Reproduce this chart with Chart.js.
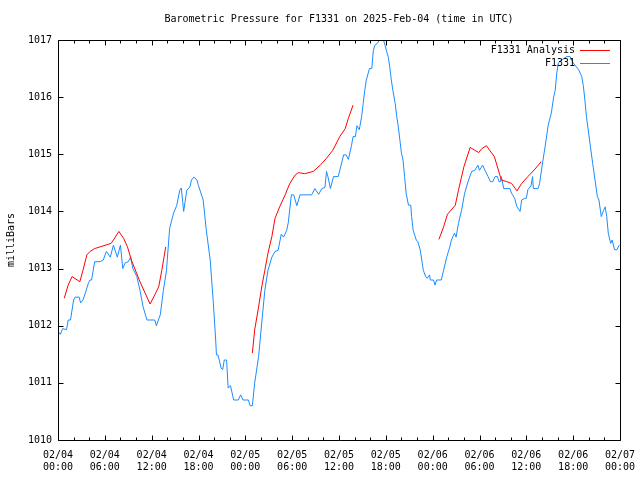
<!DOCTYPE html>
<html lang="en">
<head>
    <meta charset="UTF-8">
    <title>Barometric Pressure for F1331</title>
    <script src="https://cdn.jsdelivr.net/npm/chart.js"></script>
    <style>
        body { margin: 0; background: #fff; }
        #chart { display: block; }
    </style>
</head>
<body>
    <canvas id="chart" width="640" height="480"></canvas>

    <script>
        // hours since 2025-02-04 00:00 UTC
        const xTickDates = ['02/04', '02/04', '02/04', '02/04', '02/05', '02/05', '02/05', '02/05', '02/06', '02/06', '02/06', '02/06', '02/07'];
        const xTickTimes = ['00:00', '06:00', '12:00', '18:00', '00:00', '06:00', '12:00', '18:00', '00:00', '06:00', '12:00', '18:00', '00:00'];

        const observedHours = [
            0.0, 0.3, 0.6, 1.1, 1.3, 1.6, 2.0, 2.2, 2.7, 2.9, 3.2, 3.5, 3.9, 4.1, 4.3, 4.7, 5.4, 5.8, 6.2, 6.7,
            7.1, 7.6, 8.0, 8.3, 8.6, 9.0, 9.3, 9.6, 10.1, 10.5, 10.9, 11.4, 12.4, 12.6, 13.1, 13.5, 13.9, 14.3, 14.8, 15.2,
            15.6, 15.8, 16.1, 16.5, 16.9, 17.1, 17.4, 17.8, 18.0, 18.6, 19.0, 19.5, 19.9, 20.2, 20.3, 20.5, 20.9, 21.1, 21.3, 21.6,
            21.8, 22.1, 22.5, 23.1, 23.4, 23.7, 24.4, 24.6, 24.9, 25.2, 25.7, 26.1, 26.5, 26.9, 27.4, 27.8, 28.2, 28.6, 28.9, 29.3,
            29.5, 29.9, 30.2, 30.6, 31.0, 32.5, 32.9, 33.4, 33.8, 34.2, 34.4, 34.6, 34.9, 35.3, 35.9, 36.1, 36.6, 36.9, 37.2, 37.6,
            37.8, 38.1, 38.3, 38.6, 38.9, 39.1, 39.3, 39.5, 39.9, 40.2, 40.4, 40.6, 40.9, 41.2, 41.7, 41.9, 42.1, 42.3, 42.5, 42.7,
            42.9, 43.2, 43.4, 43.6, 43.8, 44.0, 44.2, 44.4, 44.6, 44.9, 45.2, 45.3, 45.5, 45.9, 46.1, 46.4, 46.6, 46.8, 47.1, 47.3,
            47.6, 47.7, 48.1, 48.3, 48.5, 49.1, 49.4, 49.8, 50.2, 50.4, 50.8, 51.0, 51.3, 51.7, 52.1, 52.6, 53.0, 53.4, 53.8, 54.0,
            54.4, 54.7, 55.1, 55.4, 55.7, 56.0, 56.3, 56.5, 56.7, 56.8, 57.1, 57.9, 58.1, 58.5, 58.8, 59.2, 59.4, 59.8, 60.0, 60.2,
            60.6, 60.8, 60.9, 61.5, 61.7, 62.1, 62.4, 62.8, 63.2, 63.5, 63.7, 63.9, 64.1, 64.5, 65.2, 65.6, 66.0, 66.7, 67.1, 67.3,
            67.5, 67.7, 68.1, 68.5, 68.8, 69.1, 69.3, 69.6, 69.9, 70.1, 70.3, 70.5, 70.8, 71.0, 71.3, 71.6, 71.9
        ];
        const observedPressure = [
            1011.90, 1011.85, 1011.95, 1011.93, 1012.10, 1012.10, 1012.45, 1012.50, 1012.50, 1012.40, 1012.45, 1012.57, 1012.75, 1012.80, 1012.80, 1013.12, 1013.12, 1013.15, 1013.30, 1013.20,
            1013.41, 1013.20, 1013.41, 1013.00, 1013.10, 1013.12, 1013.20, 1013.00, 1012.86, 1012.62, 1012.33, 1012.10, 1012.10, 1012.00, 1012.19, 1012.62, 1012.97, 1013.70, 1013.97, 1014.10,
            1014.37, 1014.41, 1014.00, 1014.37, 1014.43, 1014.55, 1014.60, 1014.55, 1014.45, 1014.20, 1013.67, 1013.15, 1012.40, 1011.75, 1011.49, 1011.49, 1011.26, 1011.23, 1011.40, 1011.40,
            1010.91, 1010.95, 1010.70, 1010.70, 1010.79, 1010.70, 1010.70, 1010.60, 1010.60, 1011.00, 1011.46, 1012.05, 1012.62, 1012.97, 1013.20, 1013.30, 1013.32, 1013.60, 1013.55, 1013.67,
            1013.80, 1014.29, 1014.29, 1014.10, 1014.29, 1014.29, 1014.40, 1014.30, 1014.40, 1014.42, 1014.70, 1014.60, 1014.40, 1014.61, 1014.61, 1014.72, 1014.99, 1014.99, 1014.91, 1015.15,
            1015.31, 1015.31, 1015.50, 1015.43, 1015.66, 1015.89, 1016.12, 1016.30, 1016.50, 1016.50, 1016.82, 1016.91, 1016.94, 1017.00, 1017.00, 1016.91, 1016.80, 1016.71, 1016.53, 1016.30,
            1016.12, 1015.89, 1015.66, 1015.48, 1015.25, 1015.02, 1014.90, 1014.61, 1014.32, 1014.11, 1014.11, 1013.91, 1013.67, 1013.50, 1013.47, 1013.33, 1013.15, 1012.97, 1012.86, 1012.83,
            1012.89, 1012.80, 1012.80, 1012.71, 1012.80, 1012.80, 1012.97, 1013.20, 1013.38, 1013.50, 1013.62, 1013.55, 1013.79, 1014.02, 1014.32, 1014.55, 1014.70, 1014.72, 1014.81, 1014.72,
            1014.81, 1014.72, 1014.61, 1014.52, 1014.52, 1014.61, 1014.61, 1014.52, 1014.52, 1014.61, 1014.40, 1014.40, 1014.32, 1014.23, 1014.08, 1014.00, 1014.20, 1014.23, 1014.23, 1014.38,
            1014.45, 1014.61, 1014.40, 1014.40, 1014.49, 1014.87, 1015.13, 1015.51, 1015.72, 1016.00, 1016.12, 1016.42, 1016.60, 1016.65, 1016.71, 1016.71, 1016.60, 1016.48, 1016.36, 1016.20,
            1015.95, 1015.66, 1015.25, 1014.84, 1014.55, 1014.26, 1014.20, 1013.91, 1014.02, 1014.08, 1013.91, 1013.62, 1013.44, 1013.50, 1013.33, 1013.33, 1013.41
        ];

        // analysis runs, null = gap between runs
        const analysisHours = [
            0.8, 1.3, 1.8, 2.8, 3.2, 3.7, 4.1, 4.7, 5.4, 6.8, 7.1, 7.8, 8.4, 8.9, 9.4, 10.5, 11.8, 12.4, 12.9, 13.3, 13.8,
            19.0,
            24.9, 25.2, 25.7, 26.1, 26.5, 26.9, 27.4, 27.8, 28.4, 29.1, 29.7, 30.4, 30.8, 31.6, 32.7, 33.6, 34.4, 35.2, 36.1, 36.8, 37.2, 37.8,
            43.0,
            48.8, 49.4, 49.9, 50.9, 51.3, 52.0, 52.8, 53.4, 53.9, 54.3, 54.9, 55.3, 55.9, 56.3, 56.8, 57.5, 58.1, 58.8, 59.4, 60.2, 61.1, 61.9
        ];
        const analysisPressure = [
            1012.48, 1012.71, 1012.86, 1012.77, 1012.97, 1013.24, 1013.30, 1013.35, 1013.38, 1013.44, 1013.50, 1013.65, 1013.53, 1013.38, 1013.15, 1012.77, 1012.38, 1012.54, 1012.68, 1012.97, 1013.38,
            null,
            1011.52, 1011.93, 1012.33, 1012.68, 1012.97, 1013.27, 1013.56, 1013.88, 1014.08, 1014.29, 1014.49, 1014.64, 1014.68, 1014.66, 1014.70, 1014.81, 1014.93, 1015.07, 1015.31, 1015.45, 1015.63, 1015.86,
            null,
            1013.51, 1013.73, 1013.95, 1014.11, 1014.37, 1014.78, 1015.12, 1015.07, 1015.03, 1015.10, 1015.15, 1015.07, 1014.96, 1014.78, 1014.55, 1014.52, 1014.49, 1014.36, 1014.49, 1014.61, 1014.74, 1014.87
        ];

        const FONT = '10px "DejaVu Sans Mono", monospace';

        // gnuplot style box: border, inward ticks, title, axis label, legend
        const gnuplotFrame = {
            id: 'gnuplotFrame',
            afterDraw(chart) {
                const ctx = chart.ctx;
                const area = chart.chartArea;
                const xs = chart.scales.x;
                const ys = chart.scales.y;
                const L = Math.round(area.left) + 0.5;
                const R = Math.round(area.right) + 0.5;
                const T = Math.round(area.top) + 0.5;
                const B = Math.round(area.bottom) + 0.5;

                ctx.save();
                ctx.strokeStyle = '#000';
                ctx.lineWidth = 1;
                ctx.beginPath();
                ctx.rect(L, T, R - L, B - T);

                for (let h = 0; h <= 72; h += 2) {
                    const x = Math.round(xs.getPixelForValue(h)) + 0.5;
                    const len = h % 6 === 0 ? 5 : 3;
                    ctx.moveTo(x, B); ctx.lineTo(x, B - len);
                    ctx.moveTo(x, T); ctx.lineTo(x, T + len);
                }
                for (let p = 1010; p <= 1017; p++) {
                    const y = Math.round(ys.getPixelForValue(p)) + 0.5;
                    ctx.moveTo(L, y); ctx.lineTo(L + 5, y);
                    ctx.moveTo(R, y); ctx.lineTo(R - 5, y);
                }
                ctx.stroke();

                ctx.fillStyle = '#000';
                ctx.font = FONT;
                ctx.textAlign = 'center';
                ctx.textBaseline = 'middle';
                ctx.fillText('Barometric Pressure for F1331 on 2025-Feb-04 (time in UTC)', (area.left + area.right) / 2, 19);

                ctx.save();
                ctx.translate(11, (area.top + area.bottom) / 2);
                ctx.rotate(-Math.PI / 2);
                ctx.fillText('milliBars', 0, 0);
                ctx.restore();

                // legend, top right inside the box
                ctx.textAlign = 'right';
                chart.data.datasets.forEach((ds, i) => {
                    const y = 50 + i * 13;
                    ctx.fillStyle = '#000';
                    ctx.fillText(ds.label, 575, y);
                    ctx.strokeStyle = ds.borderColor;
                    ctx.beginPath();
                    ctx.moveTo(580, Math.round(y) + 0.5);
                    ctx.lineTo(610, Math.round(y) + 0.5);
                    ctx.stroke();
                });
                ctx.restore();
            }
        };

        const ctx = document.getElementById('chart').getContext('2d');
        new Chart(ctx, {
            type: 'line',
            data: {
                datasets: [{
                    label: 'F1331 Analysis',
                    data: analysisHours.map((h, i) => ({ x: h, y: analysisPressure[i] })),
                    borderColor: '#ff0000',
                    borderWidth: 1,
                    pointRadius: 0,
                    spanGaps: false,
                    tension: 0
                }, {
                    label: 'F1331',
                    data: observedHours.map((h, i) => ({ x: h, y: observedPressure[i] })),
                    borderColor: '#1a8cff',
                    borderWidth: 1,
                    pointRadius: 0,
                    tension: 0
                }]
            },
            options: {
                responsive: false,
                animation: false,
                devicePixelRatio: 1,
                layout: { padding: { top: 40, right: 20, left: 0, bottom: 0 } },
                plugins: {
                    legend: { display: false },
                    title: { display: false },
                    tooltip: { enabled: false }
                },
                scales: {
                    x: {
                        type: 'linear',
                        min: 0,
                        max: 72,
                        grid: { display: false, drawTicks: false },
                        border: { display: false },
                        ticks: {
                            stepSize: 6,
                            autoSkip: false,
                            maxRotation: 0,
                            padding: 9,
                            color: '#000',
                            font: { family: '"DejaVu Sans Mono", monospace', size: 10 },
                            callback: v => [xTickDates[v / 6], xTickTimes[v / 6]]
                        },
                        afterFit: s => { s.height = 40; s.paddingLeft = 0; s.paddingRight = 0; }
                    },
                    y: {
                        min: 1010,
                        max: 1017,
                        grid: { display: false, drawTicks: false },
                        border: { display: false },
                        ticks: {
                            stepSize: 1,
                            padding: 6,
                            color: '#000',
                            font: { family: '"DejaVu Sans Mono", monospace', size: 10 },
                            callback: v => String(v)
                        },
                        afterFit: s => { s.width = 58; s.paddingTop = 0; s.paddingBottom = 0; }
                    }
                }
            },
            plugins: [gnuplotFrame]
        });
    </script>
</body>
</html>
